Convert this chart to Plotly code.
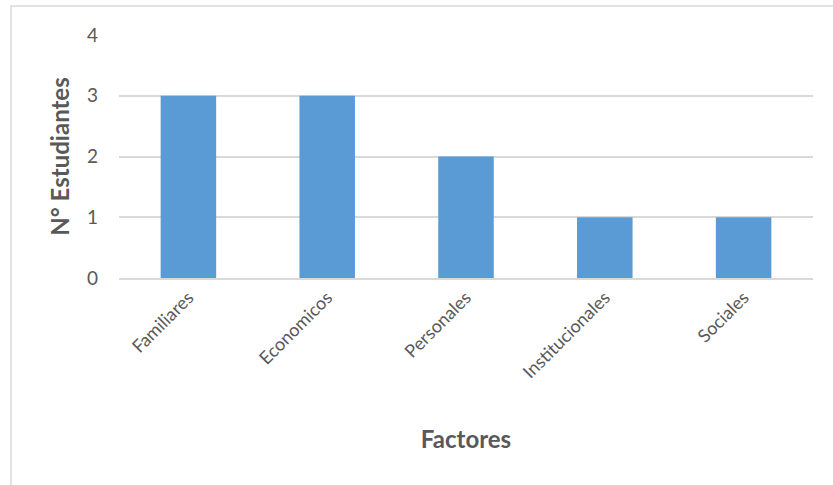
import plotly.graph_objects as go

categories = ["Familiares", "Economicos", "Personales", "Institucionales", "Sociales"]
values = [3, 3, 2, 1, 1]
y_ticks = [0, 1, 2, 3, 4]

fig = go.Figure(go.Bar(x=categories, y=values, marker=dict(color="#5b9bd5", line=dict(width=0))))

font_family = "Lato, 'Open Sans', sans-serif"
fig.update_layout(
    width=833, height=485,
    margin=dict(l=119, r=20, t=35, b=207, autoexpand=False),
    paper_bgcolor="white", plot_bgcolor="white",
    bargap=0.6,
    showlegend=False,
    font=dict(family=font_family, color="#595959", size=18),
    shapes=[dict(type="rect", xref="paper", yref="paper", x0=-0.1556, x1=1.2, y0=-1.5, y1=1.119,
                 line=dict(color="#d9d9d9", width=1.5), layer="below")],
)
fig.update_xaxes(
    tickangle=-45, showgrid=False, showline=True, linecolor="#d9d9d9", linewidth=2,
    ticks="", tickfont=dict(size=18, color="#595959"),
    title=dict(text="<b>Factores</b>", font=dict(size=24, color="#595959"), standoff=50),
)
fig.update_yaxes(
    range=[0, 4], tickvals=y_ticks, showgrid=True, gridcolor="#d9d9d9", gridwidth=1.5,
    zeroline=False, showline=False, ticks="", ticklabelstandoff=20,
    tickfont=dict(size=19, color="#595959"),
    title=dict(text="<b>N° Estudiantes</b>", font=dict(size=24, color="#595959"), standoff=10),
)
fig.write_html("out.html", config={"displayModeBar": False},
               post_script="document.body.style.margin='0';")
